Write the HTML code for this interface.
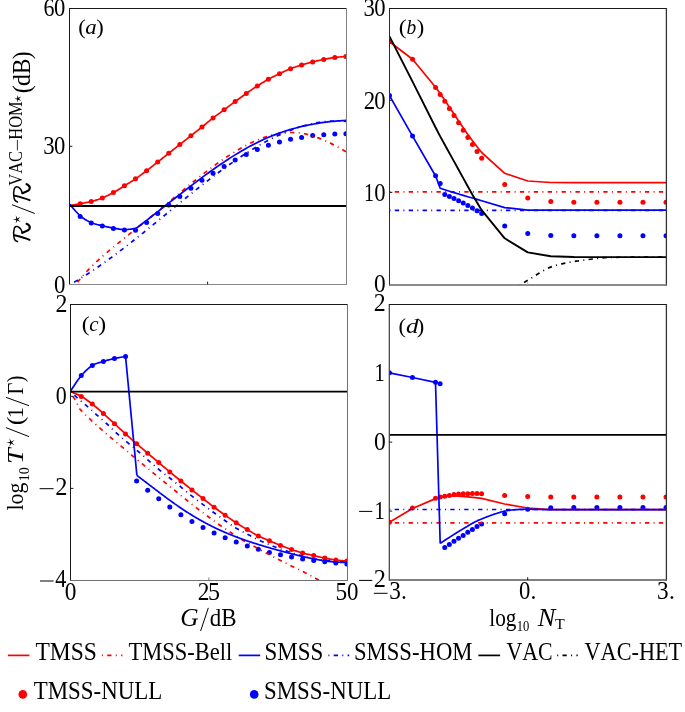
<!DOCTYPE html><html><head><meta charset="utf-8"><style>html,body{margin:0;padding:0;background:#fff;}svg{display:block;will-change:transform;}text{font-family:"Liberation Serif",serif;fill:#000;font-kerning:none;}</style></head><body>
<svg width="685" height="712" viewBox="0 0 685 712">
<rect width="685" height="712" fill="#fff"/>
<defs>
<clipPath id="ca"><rect x="69.5" y="8.4" width="276.8" height="276.0"/></clipPath>
<clipPath id="cb"><rect x="389.5" y="8.4" width="276.5" height="276.20000000000005"/></clipPath>
<clipPath id="cc"><rect x="70.6" y="304.4" width="276.70000000000005" height="276.0"/></clipPath>
<clipPath id="cd"><rect x="389.4" y="304.2" width="276.6" height="275.8"/></clipPath>
</defs>
<g fill="#ff0000" clip-path="url(#ca)"><circle cx="80.17" cy="203.70" r="2.5"/><circle cx="91.24" cy="201.50" r="2.5"/><circle cx="102.32" cy="197.90" r="2.5"/><circle cx="113.39" cy="192.60" r="2.5"/><circle cx="124.46" cy="185.80" r="2.5"/><circle cx="135.53" cy="178.80" r="2.5"/><circle cx="146.60" cy="170.70" r="2.5"/><circle cx="157.68" cy="162.00" r="2.5"/><circle cx="168.75" cy="153.30" r="2.5"/><circle cx="179.82" cy="144.50" r="2.5"/><circle cx="190.89" cy="135.80" r="2.5"/><circle cx="201.96" cy="127.00" r="2.5"/><circle cx="213.04" cy="118.00" r="2.5"/><circle cx="224.11" cy="109.80" r="2.5"/><circle cx="235.18" cy="101.50" r="2.5"/><circle cx="246.25" cy="93.50" r="2.5"/><circle cx="257.32" cy="85.90" r="2.5"/><circle cx="268.40" cy="79.30" r="2.5"/><circle cx="279.47" cy="73.70" r="2.5"/><circle cx="290.54" cy="68.70" r="2.5"/><circle cx="301.61" cy="65.00" r="2.5"/><circle cx="312.68" cy="61.90" r="2.5"/><circle cx="323.76" cy="59.40" r="2.5"/><circle cx="334.83" cy="57.50" r="2.5"/><circle cx="345.90" cy="56.50" r="2.5"/></g>
<g fill="#0000ff" clip-path="url(#ca)"><circle cx="80.17" cy="216.40" r="2.5"/><circle cx="91.24" cy="222.90" r="2.5"/><circle cx="102.32" cy="225.90" r="2.5"/><circle cx="113.39" cy="228.40" r="2.5"/><circle cx="124.46" cy="229.90" r="2.5"/><circle cx="135.53" cy="230.30" r="2.5"/><circle cx="146.60" cy="222.40" r="2.5"/><circle cx="157.68" cy="213.60" r="2.5"/><circle cx="168.75" cy="205.00" r="2.5"/><circle cx="179.82" cy="196.50" r="2.5"/><circle cx="190.89" cy="188.30" r="2.5"/><circle cx="201.96" cy="180.30" r="2.5"/><circle cx="213.04" cy="173.30" r="2.5"/><circle cx="224.11" cy="166.50" r="2.5"/><circle cx="235.18" cy="160.00" r="2.5"/><circle cx="246.25" cy="154.40" r="2.5"/><circle cx="257.32" cy="149.40" r="2.5"/><circle cx="268.40" cy="145.20" r="2.5"/><circle cx="279.47" cy="142.00" r="2.5"/><circle cx="290.54" cy="139.30" r="2.5"/><circle cx="301.61" cy="137.40" r="2.5"/><circle cx="312.68" cy="135.60" r="2.5"/><circle cx="323.76" cy="134.70" r="2.5"/><circle cx="334.83" cy="134.10" r="2.5"/><circle cx="345.90" cy="133.70" r="2.5"/></g>
<path d="M69.10,205.50 L69.95,205.36 L71.09,205.19 L72.44,204.97 L73.94,204.74 L75.53,204.48 L77.14,204.22 L78.71,203.96 L80.17,203.70 L81.56,203.45 L82.94,203.21 L84.32,202.97 L85.71,202.71 L87.09,202.45 L88.48,202.16 L89.86,201.84 L91.24,201.50 L92.63,201.13 L94.01,200.74 L95.40,200.33 L96.78,199.89 L98.16,199.44 L99.55,198.95 L100.93,198.44 L102.32,197.90 L103.70,197.33 L105.08,196.73 L106.47,196.10 L107.85,195.45 L109.24,194.77 L110.62,194.07 L112.00,193.35 L113.39,192.60 L114.77,191.82 L116.16,191.01 L117.54,190.17 L118.92,189.31 L120.31,188.43 L121.69,187.55 L123.08,186.67 L124.46,185.80 L125.84,184.94 L127.23,184.09 L128.61,183.24 L130.00,182.38 L131.38,181.51 L132.76,180.63 L134.15,179.73 L135.53,178.80 L136.92,177.84 L138.30,176.87 L139.68,175.87 L141.07,174.86 L142.45,173.83 L143.84,172.79 L145.22,171.75 L146.60,170.70 L147.99,169.64 L149.37,168.57 L150.76,167.48 L152.14,166.39 L153.52,165.29 L154.91,164.19 L156.29,163.09 L157.68,162.00 L159.06,160.91 L160.44,159.83 L161.83,158.74 L163.21,157.66 L164.60,156.57 L165.98,155.48 L167.36,154.39 L168.75,153.30 L170.13,152.20 L171.52,151.10 L172.90,150.00 L174.28,148.90 L175.67,147.80 L177.05,146.70 L178.44,145.60 L179.82,144.50 L181.20,143.41 L182.59,142.32 L183.97,141.23 L185.36,140.15 L186.74,139.07 L188.12,137.98 L189.51,136.89 L190.89,135.80 L192.28,134.71 L193.66,133.61 L195.04,132.52 L196.43,131.42 L197.81,130.32 L199.20,129.22 L200.58,128.11 L201.96,127.00 L203.35,125.88 L204.73,124.75 L206.12,123.60 L207.50,122.46 L208.88,121.33 L210.27,120.20 L211.65,119.09 L213.04,118.00 L214.42,116.94 L215.80,115.90 L217.19,114.87 L218.57,113.86 L219.96,112.85 L221.34,111.84 L222.72,110.82 L224.11,109.80 L225.49,108.77 L226.88,107.72 L228.26,106.68 L229.64,105.64 L231.03,104.59 L232.41,103.56 L233.80,102.52 L235.18,101.50 L236.56,100.48 L237.95,99.47 L239.33,98.46 L240.72,97.46 L242.10,96.46 L243.48,95.46 L244.87,94.48 L246.25,93.50 L247.64,92.52 L249.02,91.55 L250.40,90.58 L251.79,89.61 L253.17,88.66 L254.56,87.72 L255.94,86.80 L257.32,85.90 L258.71,85.02 L260.09,84.16 L261.48,83.31 L262.86,82.48 L264.24,81.66 L265.63,80.86 L267.01,80.07 L268.40,79.30 L269.78,78.55 L271.16,77.82 L272.55,77.10 L273.93,76.40 L275.32,75.71 L276.70,75.03 L278.08,74.36 L279.47,73.70 L280.85,73.04 L282.24,72.38 L283.62,71.72 L285.00,71.08 L286.39,70.45 L287.77,69.84 L289.16,69.26 L290.54,68.70 L291.92,68.17 L293.31,67.67 L294.69,67.19 L296.08,66.73 L297.46,66.29 L298.84,65.85 L300.23,65.42 L301.61,65.00 L303.00,64.58 L304.38,64.17 L305.76,63.77 L307.15,63.38 L308.53,62.99 L309.92,62.62 L311.30,62.25 L312.68,61.90 L314.07,61.55 L315.45,61.22 L316.84,60.89 L318.22,60.58 L319.60,60.27 L320.99,59.97 L322.37,59.68 L323.76,59.40 L325.14,59.13 L326.52,58.86 L327.91,58.60 L329.29,58.36 L330.68,58.12 L332.06,57.90 L333.44,57.69 L334.83,57.50 L336.29,57.33 L337.86,57.16 L339.47,57.02 L341.06,56.88 L342.56,56.76 L343.91,56.66 L345.05,56.57 L345.90,56.50" fill="none" stroke="#ff0000" stroke-width="1.7" stroke-linejoin="round" clip-path="url(#ca)"/>
<path d="M74.30,286.55 L76.30,283.88 L78.30,281.31 L80.30,278.84 L82.30,276.46 L84.30,274.16 L86.30,271.95 L88.30,269.81 L90.30,267.74 L92.30,265.74 L94.30,263.79 L96.30,261.90 L98.30,260.05 L100.30,258.25 L102.30,256.49 L104.30,254.76 L106.30,253.05 L108.30,251.36 L110.30,249.69 L112.30,248.03 L114.30,246.38 L116.30,244.74 L118.30,243.11 L120.30,241.49 L122.30,239.87 L124.30,238.26 L126.30,236.65 L128.30,235.04 L130.30,233.44 L132.30,231.84 L134.30,230.24 L136.30,228.64 L138.30,227.04 L140.30,225.44 L142.30,223.84 L144.30,222.23 L146.30,220.62 L148.30,219.00 L150.30,217.38 L152.30,215.75 L154.30,214.11 L156.30,212.47 L158.30,210.82 L160.30,209.16 L162.30,207.50 L164.30,205.83 L166.30,204.17 L168.30,202.50 L170.30,200.83 L172.30,199.16 L174.30,197.49 L176.30,195.82 L178.30,194.15 L180.30,192.49 L182.30,190.83 L184.30,189.18 L186.30,187.53 L188.30,185.89 L190.30,184.26 L192.30,182.64 L194.30,181.02 L196.30,179.42 L198.30,177.83 L200.30,176.25 L202.30,174.68 L204.30,173.13 L206.30,171.59 L208.30,170.07 L210.30,168.56 L212.30,167.07 L214.30,165.60 L216.30,164.15 L218.30,162.72 L220.30,161.31 L222.30,159.92 L224.30,158.56 L226.30,157.21 L228.30,155.90 L230.30,154.60 L232.30,153.34 L234.30,152.10 L236.30,150.89 L238.30,149.70 L240.30,148.55 L242.30,147.43 L244.30,146.34 L246.30,145.28 L248.30,144.26 L250.30,143.27 L252.30,142.32 L254.30,141.40 L256.30,140.52 L258.30,139.69 L260.30,138.89 L262.30,138.13 L264.30,137.42 L266.30,136.75 L268.30,136.12 L270.30,135.54 L272.30,135.01 L274.30,134.53 L276.30,134.09 L278.30,133.71 L280.30,133.37 L282.30,133.09 L284.30,132.86 L286.30,132.69 L288.30,132.57 L290.30,132.51 L292.30,132.51 L294.30,132.57 L296.30,132.69 L298.30,132.86 L300.30,133.10 L302.30,133.41 L304.30,133.77 L306.30,134.19 L308.30,134.67 L310.30,135.21 L312.30,135.79 L314.30,136.43 L316.30,137.12 L318.30,137.85 L320.30,138.63 L322.30,139.45 L324.30,140.31 L326.30,141.21 L328.30,142.15 L330.30,143.11 L332.30,144.12 L334.30,145.15 L336.30,146.21 L338.30,147.29 L340.30,148.40 L342.30,149.53 L344.30,150.69 L346.30,151.85" fill="none" stroke="#ff0000" stroke-width="1.7" stroke-linejoin="round" stroke-dasharray="1 4.3 4.3 4.3" clip-path="url(#ca)"/>
<path d="M69.50,204.00 L70.36,204.98 L71.50,206.33 L72.85,207.93 L74.36,209.69 L75.96,211.51 L77.57,213.26 L79.14,214.86 L80.60,216.20 L81.98,217.31 L83.35,218.31 L84.73,219.20 L86.10,220.02 L87.47,220.76 L88.85,221.45 L90.22,222.09 L91.60,222.70 L92.98,223.25 L94.37,223.73 L95.76,224.14 L97.14,224.51 L98.53,224.84 L99.92,225.15 L101.31,225.47 L102.70,225.80 L104.09,226.14 L105.48,226.47 L106.86,226.80 L108.25,227.11 L109.64,227.40 L111.03,227.69 L112.41,227.95 L113.80,228.20 L115.19,228.44 L116.58,228.68 L117.97,228.92 L119.36,229.13 L120.74,229.32 L122.13,229.46 L123.52,229.56 L124.90,229.60 L126.35,229.56 L127.91,229.43 L129.52,229.25 L131.09,229.04 L132.59,228.81 L133.93,228.60 L135.05,228.42 L135.90,228.30" fill="none" stroke="#0000ff" stroke-width="1.7" stroke-linejoin="round" clip-path="url(#ca)"/>
<path d="M135.90,228.50 L137.90,226.99 L139.90,225.47 L141.90,223.95 L143.90,222.41 L145.90,220.88 L147.90,219.33 L149.90,217.78 L151.90,216.23 L153.90,214.67 L155.90,213.12 L157.90,211.55 L159.90,209.99 L161.90,208.42 L163.90,206.86 L165.90,205.29 L167.90,203.72 L169.90,202.15 L171.90,200.59 L173.90,199.02 L175.90,197.46 L177.90,195.90 L179.90,194.35 L181.90,192.80 L183.90,191.25 L185.90,189.71 L187.90,188.17 L189.90,186.64 L191.90,185.12 L193.90,183.60 L195.90,182.09 L197.90,180.59 L199.90,179.10 L201.90,177.62 L203.90,176.15 L205.90,174.68 L207.90,173.23 L209.90,171.79 L211.90,170.37 L213.90,168.95 L215.90,167.55 L217.90,166.17 L219.90,164.79 L221.90,163.43 L223.90,162.09 L225.90,160.77 L227.90,159.46 L229.90,158.16 L231.90,156.89 L233.90,155.63 L235.90,154.39 L237.90,153.17 L239.90,151.97 L241.90,150.79 L243.90,149.64 L245.90,148.50 L247.90,147.38 L249.90,146.29 L251.90,145.22 L253.90,144.18 L255.90,143.16 L257.90,142.16 L259.90,141.19 L261.90,140.25 L263.90,139.33 L265.90,138.43 L267.90,137.57 L269.90,136.72 L271.90,135.91 L273.90,135.12 L275.90,134.35 L277.90,133.61 L279.90,132.89 L281.90,132.19 L283.90,131.52 L285.90,130.87 L287.90,130.24 L289.90,129.63 L291.90,129.05 L293.90,128.49 L295.90,127.95 L297.90,127.43 L299.90,126.93 L301.90,126.45 L303.90,125.99 L305.90,125.55 L307.90,125.13 L309.90,124.73 L311.90,124.35 L313.90,123.99 L315.90,123.64 L317.90,123.31 L319.90,123.00 L321.90,122.71 L323.90,122.43 L325.90,122.18 L327.90,121.93 L329.90,121.70 L331.90,121.49 L333.90,121.30 L335.90,121.12 L337.90,120.95 L339.90,120.80 L341.90,120.66 L343.90,120.53 L345.90,120.42 L346.30,120.40" fill="none" stroke="#0000ff" stroke-width="1.7" stroke-linejoin="round" clip-path="url(#ca)"/>
<path d="M69.50,284.80 L71.50,283.68 L73.50,282.54 L75.50,281.37 L77.50,280.19 L79.50,278.98 L81.50,277.76 L83.50,276.52 L85.50,275.25 L87.50,273.97 L89.50,272.67 L91.50,271.36 L93.50,270.03 L95.50,268.68 L97.50,267.31 L99.50,265.93 L101.50,264.53 L103.50,263.12 L105.50,261.70 L107.50,260.26 L109.50,258.81 L111.50,257.34 L113.50,255.87 L115.50,254.38 L117.50,252.88 L119.50,251.37 L121.50,249.85 L123.50,248.31 L125.50,246.77 L127.50,245.22 L129.50,243.66 L131.50,242.09 L133.50,240.52 L135.50,238.94 L137.50,237.35 L139.50,235.75 L141.50,234.15 L143.50,232.54 L145.50,230.93 L147.50,229.31 L149.50,227.69 L151.50,226.06 L153.50,224.43 L155.50,222.80 L157.50,221.16 L159.50,219.53 L161.50,217.89 L163.50,216.25 L165.50,214.61 L167.50,212.97 L169.50,211.33 L171.50,209.69 L173.50,208.06 L175.50,206.42 L177.50,204.79 L179.50,203.15 L181.50,201.53 L183.50,199.90 L185.50,198.28 L187.50,196.66 L189.50,195.05 L191.50,193.45 L193.50,191.85 L195.50,190.25 L197.50,188.66 L199.50,187.08 L201.50,185.51 L203.50,183.94 L205.50,182.39 L207.50,180.84 L209.50,179.30 L211.50,177.77 L213.50,176.25 L215.50,174.75 L217.50,173.25 L219.50,171.77 L221.50,170.29 L223.50,168.83 L225.50,167.39 L227.50,165.95 L229.50,164.53 L231.50,163.13 L233.50,161.73 L235.50,160.36 L237.50,159.00 L239.50,157.65 L241.50,156.33 L243.50,155.02 L245.50,153.72 L247.50,152.45 L249.50,151.19 L251.50,149.95 L253.50,148.74 L255.50,147.54 L257.50,146.36 L259.50,145.20 L261.50,144.07 L263.50,142.95 L265.50,141.86 L267.50,140.79 L269.50,139.74 L271.50,138.71 L273.50,137.71 L275.50,136.74 L277.50,135.79 L279.50,134.86 L281.50,133.96 L283.50,133.09 L285.50,132.24 L287.50,131.42 L289.50,130.62 L291.50,129.86 L293.50,129.12 L295.50,128.41 L297.50,127.73 L299.50,127.08 L301.50,126.46 L303.50,125.87 L305.50,125.32 L307.50,124.79 L309.50,124.30 L311.50,123.83 L313.50,123.41 L315.50,123.01 L317.50,122.65 L319.50,122.32 L321.50,122.03 L323.50,121.77 L325.50,121.55 L327.50,121.36 L329.50,121.21 L331.50,121.10 L333.50,121.02 L335.50,120.99 L337.50,120.99 L339.50,121.03 L341.50,121.11 L343.50,121.23 L345.50,121.38 L346.30,121.46" fill="none" stroke="#0000ff" stroke-width="1.7" stroke-linejoin="round" stroke-dasharray="1 4.3 4.3 4.3" clip-path="url(#ca)"/>
<path d="M69.50,205.95 L346.30,205.95" fill="none" stroke="#000000" stroke-width="2.0" stroke-linejoin="round" clip-path="url(#ca)"/>
<g fill="#ff0000" clip-path="url(#cb)"><circle cx="389.50" cy="41.80" r="2.5"/><circle cx="412.54" cy="59.30" r="2.5"/><circle cx="435.58" cy="87.50" r="2.5"/><circle cx="440.19" cy="94.40" r="2.5"/><circle cx="444.80" cy="101.30" r="2.5"/><circle cx="449.41" cy="108.40" r="2.5"/><circle cx="454.02" cy="115.50" r="2.5"/><circle cx="458.62" cy="122.70" r="2.5"/><circle cx="463.23" cy="130.20" r="2.5"/><circle cx="467.84" cy="137.50" r="2.5"/><circle cx="472.45" cy="144.40" r="2.5"/><circle cx="477.06" cy="151.50" r="2.5"/><circle cx="481.67" cy="158.30" r="2.5"/><circle cx="504.71" cy="184.50" r="2.5"/><circle cx="527.75" cy="197.90" r="2.5"/><circle cx="550.79" cy="201.60" r="2.5"/><circle cx="573.83" cy="202.20" r="2.5"/><circle cx="596.88" cy="202.20" r="2.5"/><circle cx="619.92" cy="202.20" r="2.5"/><circle cx="642.96" cy="202.20" r="2.5"/><circle cx="666.00" cy="202.20" r="2.5"/></g>
<g fill="#0000ff" clip-path="url(#cb)"><circle cx="389.50" cy="95.60" r="2.5"/><circle cx="412.54" cy="136.10" r="2.5"/><circle cx="435.58" cy="175.70" r="2.5"/><circle cx="440.19" cy="183.40" r="2.5"/><circle cx="444.80" cy="194.50" r="2.5"/><circle cx="449.41" cy="196.40" r="2.5"/><circle cx="454.02" cy="198.40" r="2.5"/><circle cx="458.62" cy="200.70" r="2.5"/><circle cx="463.23" cy="203.00" r="2.5"/><circle cx="467.84" cy="205.50" r="2.5"/><circle cx="472.45" cy="207.90" r="2.5"/><circle cx="477.06" cy="210.70" r="2.5"/><circle cx="481.67" cy="213.60" r="2.5"/><circle cx="504.71" cy="226.10" r="2.5"/><circle cx="527.75" cy="233.60" r="2.5"/><circle cx="550.79" cy="235.50" r="2.5"/><circle cx="573.83" cy="235.70" r="2.5"/><circle cx="596.88" cy="235.70" r="2.5"/><circle cx="619.92" cy="235.70" r="2.5"/><circle cx="642.96" cy="235.70" r="2.5"/><circle cx="666.00" cy="235.70" r="2.5"/></g>
<path d="M389.50,41.80 L412.54,59.30 L435.58,87.20 L440.19,93.60 L444.80,100.30 L449.41,107.20 L454.02,114.00 L458.62,121.00 L463.23,127.80 L467.84,134.40 L472.45,140.70 L477.06,146.80 L481.67,152.50 L504.71,173.30 L527.75,181.00 L550.79,182.50 L573.83,182.70 L596.88,182.70 L619.92,182.70 L642.96,182.70 L666.00,182.70" fill="none" stroke="#ff0000" stroke-width="1.7" stroke-linejoin="round" clip-path="url(#cb)"/>
<path d="M389.50,191.80 L666.00,191.80" fill="none" stroke="#ff0000" stroke-width="1.7" stroke-linejoin="round" stroke-dasharray="1 4.3 4.3 4.3" clip-path="url(#cb)"/>
<path d="M389.50,95.60 L412.54,136.10 L435.58,176.00 L440.19,188.30 L444.80,189.80 L449.41,191.20 L454.02,192.60 L458.62,194.00 L463.23,195.40 L467.84,196.70 L472.45,198.00 L477.06,199.40 L481.67,200.80 L504.71,207.60 L527.75,210.20 L550.79,210.20 L573.83,210.20 L596.88,210.20 L619.92,210.20 L642.96,210.20 L666.00,210.20" fill="none" stroke="#0000ff" stroke-width="1.7" stroke-linejoin="round" clip-path="url(#cb)"/>
<path d="M389.50,210.30 L666.00,210.30" fill="none" stroke="#0000ff" stroke-width="1.7" stroke-linejoin="round" stroke-dasharray="1 4.3 4.3 4.3" clip-path="url(#cb)"/>
<path d="M389.50,36.40 L412.54,81.60 L435.58,127.50 L440.19,136.40 L444.80,144.70 L449.41,153.10 L454.02,161.40 L458.62,169.80 L463.23,178.10 L467.84,186.50 L472.45,194.80 L477.06,202.60 L481.67,210.20 L504.71,238.30 L527.75,252.40 L550.79,256.30 L573.83,257.00 L596.88,257.10 L619.92,257.10 L642.96,257.10 L666.00,257.10" fill="none" stroke="#000000" stroke-width="1.9" stroke-linejoin="round" clip-path="url(#cb)"/>
<path d="M519.50,285.20 L520.09,284.85 L520.77,284.43 L521.58,283.95 L522.52,283.38 L523.64,282.71 L524.94,281.93 L526.45,281.03 L528.20,280.00 L530.27,278.74 L532.67,277.24 L535.33,275.56 L538.16,273.79 L541.06,272.03 L543.96,270.36 L546.77,268.85 L549.40,267.60 L551.91,266.59 L554.41,265.74 L556.88,265.03 L559.31,264.41 L561.69,263.88 L564.01,263.40 L566.25,262.95 L568.40,262.50 L570.44,262.08 L572.36,261.74 L574.20,261.45 L575.97,261.20 L577.72,260.98 L579.45,260.76 L581.21,260.54 L583.00,260.30 L584.84,260.04 L586.70,259.78 L588.57,259.53 L590.44,259.27 L592.29,259.03 L594.10,258.80 L595.88,258.59 L597.60,258.40 L599.13,258.23 L600.44,258.07 L601.64,257.92 L602.84,257.79 L604.16,257.68 L605.71,257.57 L607.62,257.48 L610.00,257.40 L612.94,257.34 L616.36,257.29 L620.14,257.26 L624.15,257.24 L628.27,257.23 L632.37,257.22 L636.32,257.21 L640.00,257.20 L643.62,257.18 L647.39,257.17 L651.19,257.15 L654.88,257.14 L658.33,257.13 L661.42,257.12 L664.02,257.11 L666.00,257.10" fill="none" stroke="#000000" stroke-width="1.7" stroke-linejoin="round" stroke-dasharray="1 4.3 4.3 4.3" clip-path="url(#cb)"/>
<g fill="#ff0000" clip-path="url(#cc)"><circle cx="81.27" cy="396.40" r="2.5"/><circle cx="92.34" cy="404.10" r="2.5"/><circle cx="103.40" cy="413.60" r="2.5"/><circle cx="114.47" cy="423.70" r="2.5"/><circle cx="125.54" cy="433.90" r="2.5"/><circle cx="136.61" cy="443.70" r="2.5"/><circle cx="147.68" cy="453.20" r="2.5"/><circle cx="158.74" cy="462.60" r="2.5"/><circle cx="169.81" cy="471.90" r="2.5"/><circle cx="180.88" cy="481.00" r="2.5"/><circle cx="191.95" cy="489.90" r="2.5"/><circle cx="203.02" cy="498.60" r="2.5"/><circle cx="214.08" cy="507.20" r="2.5"/><circle cx="225.15" cy="515.20" r="2.5"/><circle cx="236.22" cy="522.80" r="2.5"/><circle cx="247.29" cy="529.60" r="2.5"/><circle cx="258.36" cy="535.90" r="2.5"/><circle cx="269.42" cy="540.80" r="2.5"/><circle cx="280.49" cy="545.40" r="2.5"/><circle cx="291.56" cy="549.50" r="2.5"/><circle cx="302.63" cy="553.00" r="2.5"/><circle cx="313.70" cy="555.60" r="2.5"/><circle cx="324.76" cy="558.10" r="2.5"/><circle cx="335.83" cy="560.00" r="2.5"/><circle cx="346.90" cy="561.10" r="2.5"/></g>
<g fill="#0000ff" clip-path="url(#cc)"><circle cx="81.27" cy="375.60" r="2.5"/><circle cx="92.34" cy="365.50" r="2.5"/><circle cx="103.40" cy="361.40" r="2.5"/><circle cx="114.47" cy="358.50" r="2.5"/><circle cx="125.54" cy="356.40" r="2.5"/><circle cx="136.61" cy="481.10" r="2.5"/><circle cx="147.68" cy="490.20" r="2.5"/><circle cx="158.74" cy="498.80" r="2.5"/><circle cx="169.81" cy="507.00" r="2.5"/><circle cx="180.88" cy="514.80" r="2.5"/><circle cx="191.95" cy="521.40" r="2.5"/><circle cx="203.02" cy="527.60" r="2.5"/><circle cx="214.08" cy="533.00" r="2.5"/><circle cx="225.15" cy="537.80" r="2.5"/><circle cx="236.22" cy="542.00" r="2.5"/><circle cx="247.29" cy="546.10" r="2.5"/><circle cx="258.36" cy="549.30" r="2.5"/><circle cx="269.42" cy="552.40" r="2.5"/><circle cx="280.49" cy="554.80" r="2.5"/><circle cx="291.56" cy="557.10" r="2.5"/><circle cx="302.63" cy="559.10" r="2.5"/><circle cx="313.70" cy="560.60" r="2.5"/><circle cx="324.76" cy="561.80" r="2.5"/><circle cx="335.83" cy="563.00" r="2.5"/><circle cx="346.90" cy="564.10" r="2.5"/></g>
<path d="M70.20,391.50 L71.05,391.86 L72.19,392.31 L73.54,392.86 L75.04,393.47 L76.63,394.14 L78.24,394.86 L79.81,395.62 L81.27,396.40 L82.65,397.22 L84.03,398.09 L85.42,399.00 L86.80,399.96 L88.19,400.96 L89.57,401.98 L90.95,403.03 L92.34,404.10 L93.72,405.20 L95.10,406.33 L96.49,407.50 L97.87,408.70 L99.25,409.91 L100.64,411.14 L102.02,412.37 L103.40,413.60 L104.79,414.83 L106.17,416.08 L107.55,417.34 L108.94,418.61 L110.32,419.88 L111.70,421.15 L113.09,422.43 L114.47,423.70 L115.86,424.97 L117.24,426.25 L118.62,427.54 L120.01,428.82 L121.39,430.10 L122.77,431.38 L124.16,432.64 L125.54,433.90 L126.92,435.15 L128.31,436.39 L129.69,437.62 L131.07,438.84 L132.46,440.06 L133.84,441.28 L135.22,442.49 L136.61,443.70 L137.99,444.90 L139.38,446.10 L140.76,447.29 L142.14,448.47 L143.53,449.66 L144.91,450.84 L146.29,452.02 L147.68,453.20 L149.06,454.38 L150.44,455.56 L151.83,456.74 L153.21,457.91 L154.59,459.09 L155.98,460.26 L157.36,461.43 L158.74,462.60 L160.13,463.77 L161.51,464.94 L162.89,466.10 L164.28,467.27 L165.66,468.43 L167.05,469.59 L168.43,470.75 L169.81,471.90 L171.20,473.05 L172.58,474.19 L173.96,475.34 L175.35,476.48 L176.73,477.61 L178.11,478.74 L179.50,479.87 L180.88,481.00 L182.26,482.12 L183.65,483.24 L185.03,484.36 L186.41,485.47 L187.80,486.59 L189.18,487.69 L190.56,488.80 L191.95,489.90 L193.33,491.00 L194.72,492.09 L196.10,493.18 L197.48,494.27 L198.87,495.35 L200.25,496.44 L201.63,497.52 L203.02,498.60 L204.40,499.68 L205.78,500.77 L207.17,501.86 L208.55,502.94 L209.93,504.02 L211.32,505.09 L212.70,506.15 L214.08,507.20 L215.47,508.23 L216.85,509.25 L218.23,510.26 L219.62,511.26 L221.00,512.26 L222.38,513.24 L223.77,514.22 L225.15,515.20 L226.54,516.17 L227.92,517.15 L229.30,518.11 L230.69,519.08 L232.07,520.03 L233.45,520.97 L234.84,521.89 L236.22,522.80 L237.60,523.69 L238.99,524.57 L240.37,525.43 L241.75,526.28 L243.14,527.12 L244.52,527.95 L245.90,528.78 L247.29,529.60 L248.67,530.42 L250.06,531.24 L251.44,532.06 L252.82,532.87 L254.21,533.66 L255.59,534.44 L256.97,535.18 L258.36,535.90 L259.74,536.58 L261.12,537.23 L262.51,537.85 L263.89,538.46 L265.27,539.05 L266.66,539.63 L268.04,540.21 L269.42,540.80 L270.81,541.39 L272.19,541.98 L273.57,542.57 L274.96,543.15 L276.34,543.72 L277.73,544.29 L279.11,544.85 L280.49,545.40 L281.88,545.94 L283.26,546.47 L284.64,547.00 L286.03,547.52 L287.41,548.03 L288.79,548.53 L290.18,549.02 L291.56,549.50 L292.94,549.97 L294.33,550.44 L295.71,550.90 L297.09,551.34 L298.48,551.78 L299.86,552.20 L301.24,552.61 L302.63,553.00 L304.01,553.37 L305.40,553.72 L306.78,554.05 L308.16,554.36 L309.55,554.67 L310.93,554.98 L312.31,555.29 L313.70,555.60 L315.08,555.92 L316.46,556.25 L317.85,556.57 L319.23,556.89 L320.61,557.21 L322.00,557.52 L323.38,557.82 L324.76,558.10 L326.15,558.37 L327.53,558.64 L328.91,558.89 L330.30,559.14 L331.68,559.37 L333.06,559.60 L334.45,559.80 L335.83,560.00 L337.29,560.18 L338.86,560.36 L340.47,560.52 L342.06,560.67 L343.56,560.80 L344.91,560.92 L346.05,561.02 L346.90,561.10" fill="none" stroke="#ff0000" stroke-width="1.7" stroke-linejoin="round" clip-path="url(#cc)"/>
<path d="M70.60,391.50 L70.79,391.92 L71.03,392.48 L71.32,393.16 L71.65,393.91 L71.99,394.68 L72.34,395.43 L72.68,396.11 L73.00,396.70 L73.30,397.18 L73.61,397.59 L73.91,397.95 L74.22,398.29 L74.52,398.63 L74.82,398.98 L75.11,399.36 L75.40,399.80 L75.68,400.30 L75.95,400.84 L76.22,401.41 L76.49,402.00 L76.75,402.59 L77.00,403.18 L77.25,403.76 L77.50,404.30 L77.73,404.82 L77.95,405.33 L78.15,405.83 L78.35,406.32 L78.56,406.80 L78.78,407.27 L79.02,407.74 L79.30,408.20 L79.61,408.65 L79.94,409.08 L80.28,409.51 L80.65,409.92 L81.03,410.34 L81.41,410.75 L81.81,411.17 L82.20,411.60 L82.60,412.03 L83.01,412.47 L83.43,412.91 L83.85,413.35 L84.28,413.79 L84.72,414.23 L85.16,414.67 L85.60,415.10 L86.05,415.53 L86.52,415.97 L86.99,416.40 L87.47,416.84 L87.94,417.27 L88.41,417.69 L88.86,418.10 L89.30,418.50 L89.68,418.85 L89.98,419.14 L90.26,419.40 L90.53,419.67 L90.85,419.97 L91.24,420.34 L91.74,420.80 L92.40,421.40 L93.22,422.14 L94.17,423.00 L95.22,423.96 L96.36,424.98 L97.55,426.05 L98.77,427.14 L99.99,428.24 L101.20,429.30 L102.41,430.36 L103.64,431.44 L104.91,432.54 L106.19,433.65 L107.49,434.77 L108.80,435.89 L110.10,437.00 L111.40,438.10 L112.70,439.19 L114.00,440.28 L115.31,441.36 L116.62,442.44 L117.94,443.52 L119.26,444.61 L120.58,445.70 L121.90,446.80 L123.22,447.91 L124.53,449.03 L125.85,450.15 L127.17,451.28 L128.49,452.41 L129.82,453.54 L131.16,454.67 L132.50,455.80 L133.86,456.93 L135.23,458.05 L136.62,459.18 L138.01,460.31 L139.39,461.44 L140.78,462.56 L142.15,463.68 L143.50,464.80 L144.83,465.91 L146.15,467.02 L147.46,468.12 L148.76,469.22 L150.06,470.32 L151.37,471.41 L152.68,472.51 L154.00,473.60 L155.34,474.69 L156.69,475.79 L158.05,476.88 L159.41,477.98 L160.77,479.06 L162.13,480.15 L163.47,481.23 L164.80,482.30 L166.11,483.36 L167.40,484.41 L168.68,485.45 L169.95,486.49 L171.22,487.53 L172.50,488.58 L173.79,489.63 L175.10,490.70 L176.42,491.78 L177.75,492.87 L179.09,493.97 L180.44,495.07 L181.79,496.18 L183.15,497.28 L184.52,498.39 L185.90,499.50 L187.29,500.61 L188.70,501.74 L190.12,502.87 L191.55,503.99 L192.98,505.12 L194.40,506.23 L195.81,507.33 L197.20,508.40 L198.58,509.45 L199.94,510.49 L201.30,511.51 L202.64,512.52 L203.99,513.53 L205.33,514.52 L206.66,515.51 L208.00,516.50 L209.33,517.48 L210.64,518.45 L211.94,519.40 L213.24,520.36 L214.55,521.31 L215.88,522.26 L217.22,523.23 L218.60,524.20 L220.01,525.19 L221.43,526.18 L222.88,527.18 L224.34,528.18 L225.81,529.19 L227.30,530.19 L228.80,531.20 L230.30,532.20 L231.82,533.21 L233.36,534.24 L234.93,535.27 L236.49,536.30 L238.06,537.32 L239.63,538.31 L241.17,539.28 L242.70,540.20 L244.20,541.08 L245.68,541.91 L247.15,542.71 L248.61,543.49 L250.07,544.26 L251.54,545.02 L253.01,545.80 L254.50,546.60 L256.01,547.42 L257.52,548.24 L259.04,549.06 L260.57,549.89 L262.10,550.72 L263.63,551.55 L265.17,552.38 L266.70,553.20 L268.23,554.02 L269.77,554.84 L271.30,555.66 L272.84,556.48 L274.38,557.29 L275.92,558.10 L277.46,558.90 L279.00,559.70 L280.55,560.49 L282.09,561.27 L283.64,562.05 L285.19,562.82 L286.75,563.59 L288.30,564.36 L289.85,565.13 L291.40,565.90 L292.94,566.67 L294.46,567.42 L295.98,568.17 L297.49,568.92 L299.03,569.68 L300.58,570.46 L302.17,571.26 L303.80,572.10 L305.55,573.01 L307.44,574.00 L309.40,575.04 L311.37,576.09 L313.27,577.10 L315.04,578.05 L316.60,578.90 L317.90,579.60 L318.92,580.16 L319.72,580.61 L320.35,580.98 L320.83,581.27 L321.20,581.50 L321.50,581.69 L321.75,581.85 L322.00,582.00" fill="none" stroke="#ff0000" stroke-width="1.7" stroke-linejoin="round" stroke-dasharray="1 4.3 4.3 4.3" clip-path="url(#cc)"/>
<path d="M70.20,391.50 L71.05,390.23 L72.19,388.51 L73.54,386.45 L75.04,384.18 L76.63,381.84 L78.24,379.54 L79.81,377.42 L81.27,375.60 L82.65,374.02 L84.03,372.53 L85.42,371.12 L86.80,369.81 L88.19,368.59 L89.57,367.47 L90.95,366.44 L92.34,365.50 L93.72,364.69 L95.10,364.02 L96.49,363.47 L97.87,363.00 L99.25,362.59 L100.64,362.20 L102.02,361.81 L103.40,361.40 L104.79,360.97 L106.17,360.57 L107.55,360.19 L108.94,359.82 L110.32,359.48 L111.70,359.14 L113.09,358.82 L114.47,358.50 L115.93,358.18 L117.50,357.87 L119.11,357.56 L120.70,357.27 L122.20,357.00 L123.55,356.76 L124.69,356.56 L125.54,356.40" fill="none" stroke="#0000ff" stroke-width="1.7" stroke-linejoin="round" clip-path="url(#cc)"/>
<path d="M125.54,356.40 L136.90,475.51" fill="none" stroke="#0000ff" stroke-width="1.7" stroke-linejoin="round" clip-path="url(#cc)"/>
<path d="M136.90,475.51 L137.13,475.68 L137.44,475.90 L137.81,476.17 L138.21,476.47 L138.64,476.79 L139.08,477.11 L139.50,477.42 L139.90,477.72 L140.28,478.00 L140.65,478.28 L141.03,478.56 L141.40,478.84 L141.78,479.12 L142.15,479.40 L142.53,479.68 L142.90,479.96 L143.28,480.25 L143.65,480.53 L144.03,480.81 L144.40,481.10 L144.78,481.38 L145.15,481.66 L145.53,481.95 L145.90,482.23 L146.28,482.52 L146.65,482.80 L147.03,483.09 L147.40,483.37 L147.78,483.66 L148.15,483.95 L148.53,484.23 L148.90,484.52 L149.28,484.81 L149.65,485.09 L150.03,485.38 L150.40,485.67 L150.78,485.95 L151.15,486.24 L151.53,486.53 L151.90,486.81 L152.28,487.10 L152.65,487.39 L153.03,487.67 L153.40,487.96 L153.78,488.25 L154.15,488.53 L154.53,488.82 L154.90,489.11 L155.28,489.39 L155.65,489.68 L156.03,489.96 L156.40,490.25 L156.78,490.54 L157.15,490.82 L157.53,491.11 L157.90,491.39 L158.28,491.68 L158.65,491.96 L159.03,492.24 L159.40,492.53 L159.78,492.81 L160.15,493.10 L160.53,493.38 L160.90,493.66 L161.28,493.94 L161.65,494.23 L162.03,494.51 L162.40,494.79 L162.78,495.07 L163.15,495.35 L163.53,495.63 L163.90,495.91 L164.28,496.19 L164.65,496.47 L165.03,496.75 L165.40,497.03 L165.78,497.31 L166.15,497.58 L166.53,497.86 L166.90,498.14 L167.28,498.41 L167.65,498.69 L168.03,498.96 L168.40,499.24 L168.78,499.51 L169.15,499.79 L169.53,500.06 L169.90,500.33 L170.28,500.60 L170.65,500.87 L171.03,501.15 L171.40,501.42 L171.78,501.69 L172.15,501.95 L172.53,502.22 L172.90,502.49 L173.28,502.76 L173.65,503.03 L174.03,503.29 L174.40,503.56 L174.78,503.82 L175.15,504.09 L175.53,504.35 L175.90,504.61 L176.28,504.87 L176.65,505.14 L177.03,505.40 L177.40,505.66 L177.78,505.92 L178.15,506.18 L178.53,506.43 L178.90,506.69 L179.28,506.95 L179.65,507.20 L180.03,507.46 L180.40,507.71 L180.78,507.97 L181.15,508.22 L181.53,508.47 L181.90,508.73 L182.28,508.98 L182.65,509.23 L183.03,509.48 L183.40,509.73 L183.78,509.97 L184.15,510.22 L184.53,510.47 L184.90,510.71 L185.28,510.96 L185.65,511.20 L186.03,511.45 L186.40,511.69 L186.78,511.93 L187.15,512.17 L187.53,512.41 L187.90,512.65 L188.28,512.89 L188.65,513.13 L189.03,513.37 L189.40,513.60 L189.78,513.84 L190.15,514.07 L190.53,514.31 L190.90,514.54 L191.28,514.77 L191.65,515.00 L192.03,515.23 L192.40,515.46 L192.78,515.69 L193.15,515.92 L193.53,516.15 L193.90,516.38 L194.28,516.60 L194.65,516.83 L195.03,517.05 L195.40,517.28 L195.78,517.50 L196.15,517.72 L196.53,517.94 L196.90,518.16 L197.28,518.38 L197.65,518.60 L198.03,518.82 L198.40,519.03 L198.78,519.25 L199.15,519.46 L199.53,519.68 L199.90,519.89 L200.28,520.11 L200.65,520.32 L201.03,520.53 L201.40,520.74 L201.78,520.95 L202.15,521.16 L202.53,521.36 L202.90,521.57 L203.28,521.78 L203.65,521.98 L204.03,522.19 L204.40,522.39 L204.78,522.59 L205.15,522.80 L205.53,523.00 L205.90,523.20 L206.28,523.40 L206.65,523.60 L207.03,523.79 L207.40,523.99 L207.78,524.19 L208.15,524.38 L208.53,524.58 L208.90,524.77 L209.28,524.96 L209.65,525.16 L210.03,525.35 L210.40,525.54 L210.78,525.73 L211.15,525.92 L211.53,526.11 L211.90,526.29 L212.28,526.48 L212.65,526.67 L213.03,526.85 L213.40,527.04 L213.78,527.22 L214.15,527.40 L214.53,527.59 L214.90,527.77 L215.28,527.95 L215.65,528.13 L216.03,528.31 L216.40,528.49 L216.78,528.66 L217.15,528.84 L217.53,529.02 L217.90,529.19 L218.28,529.37 L218.65,529.54 L219.03,529.71 L219.40,529.89 L219.78,530.06 L220.15,530.23 L220.53,530.40 L220.90,530.57 L221.28,530.74 L221.65,530.90 L222.03,531.07 L222.40,531.24 L222.78,531.40 L223.15,531.57 L223.53,531.73 L223.90,531.90 L224.28,532.06 L224.65,532.22 L225.03,532.38 L225.40,532.55 L225.78,532.71 L226.15,532.87 L226.53,533.02 L226.90,533.18 L227.28,533.34 L227.65,533.50 L228.03,533.65 L228.40,533.81 L228.78,533.96 L229.15,534.12 L229.53,534.27 L229.90,534.43 L230.28,534.58 L230.65,534.73 L231.03,534.88 L231.40,535.03 L231.78,535.18 L232.15,535.33 L232.53,535.48 L232.90,535.63 L233.28,535.77 L233.65,535.92 L234.03,536.07 L234.40,536.21 L234.78,536.36 L235.15,536.50 L235.53,536.65 L235.90,536.79 L236.28,536.93 L236.65,537.08 L237.03,537.22 L237.40,537.36 L237.78,537.50 L238.15,537.64 L238.53,537.78 L238.90,537.92 L239.28,538.06 L239.65,538.19 L240.03,538.33 L240.40,538.47 L240.78,538.60 L241.15,538.74 L241.53,538.88 L241.90,539.01 L242.28,539.14 L242.65,539.28 L243.03,539.41 L243.40,539.54 L243.78,539.68 L244.15,539.81 L244.53,539.94 L244.90,540.07 L245.28,540.20 L245.65,540.33 L246.03,540.46 L246.40,540.59 L246.78,540.72 L247.15,540.85 L247.53,540.97 L247.90,541.10 L248.28,541.23 L248.65,541.35 L249.03,541.48 L249.40,541.61 L249.78,541.73 L250.15,541.85 L250.53,541.98 L250.90,542.10 L251.28,542.23 L251.65,542.35 L252.03,542.47 L252.40,542.59 L252.78,542.72 L253.15,542.84 L253.53,542.96 L253.90,543.08 L254.28,543.20 L254.65,543.32 L255.03,543.44 L255.40,543.56 L255.77,543.68 L256.15,543.80 L256.52,543.91 L256.90,544.03 L257.27,544.15 L257.65,544.27 L258.02,544.38 L258.40,544.50 L258.77,544.61 L259.15,544.73 L259.52,544.85 L259.90,544.96 L260.27,545.08 L260.65,545.19 L261.02,545.30 L261.40,545.42 L261.77,545.53 L262.15,545.64 L262.52,545.76 L262.90,545.87 L263.27,545.98 L263.65,546.09 L264.02,546.21 L264.40,546.32 L264.77,546.43 L265.15,546.54 L265.52,546.65 L265.90,546.76 L266.27,546.87 L266.65,546.98 L267.02,547.09 L267.40,547.20 L267.77,547.31 L268.15,547.42 L268.52,547.53 L268.90,547.63 L269.27,547.74 L269.65,547.85 L270.02,547.96 L270.40,548.06 L270.77,548.17 L271.15,548.28 L271.52,548.39 L271.90,548.49 L272.27,548.60 L272.65,548.70 L273.02,548.81 L273.40,548.91 L273.77,549.02 L274.15,549.12 L274.52,549.23 L274.90,549.33 L275.27,549.44 L275.65,549.54 L276.02,549.65 L276.40,549.75 L276.77,549.85 L277.15,549.96 L277.52,550.06 L277.90,550.16 L278.27,550.27 L278.65,550.37 L279.02,550.47 L279.40,550.57 L279.77,550.67 L280.15,550.78 L280.52,550.88 L280.90,550.98 L281.27,551.08 L281.65,551.18 L282.02,551.28 L282.40,551.38 L282.77,551.48 L283.15,551.58 L283.52,551.68 L283.90,551.78 L284.27,551.88 L284.65,551.98 L285.02,552.08 L285.40,552.18 L285.77,552.27 L286.15,552.37 L286.52,552.47 L286.90,552.57 L287.27,552.67 L287.65,552.76 L288.02,552.86 L288.40,552.96 L288.77,553.06 L289.15,553.15 L289.52,553.25 L289.90,553.34 L290.27,553.44 L290.65,553.54 L291.02,553.63 L291.40,553.73 L291.77,553.82 L292.15,553.92 L292.52,554.01 L292.90,554.11 L293.27,554.20 L293.65,554.29 L294.02,554.39 L294.40,554.48 L294.77,554.58 L295.15,554.67 L295.52,554.76 L295.90,554.85 L296.27,554.95 L296.65,555.04 L297.02,555.13 L297.40,555.22 L297.77,555.31 L298.15,555.40 L298.52,555.49 L298.90,555.58 L299.27,555.67 L299.65,555.76 L300.02,555.85 L300.40,555.94 L300.77,556.03 L301.15,556.12 L301.52,556.21 L301.90,556.30 L302.27,556.39 L302.65,556.47 L303.02,556.56 L303.40,556.65 L303.77,556.73 L304.15,556.82 L304.52,556.91 L304.90,556.99 L305.27,557.08 L305.65,557.16 L306.02,557.24 L306.40,557.33 L306.77,557.41 L307.15,557.50 L307.52,557.58 L307.90,557.66 L308.27,557.74 L308.65,557.82 L309.02,557.91 L309.40,557.99 L309.77,558.07 L310.15,558.15 L310.52,558.23 L310.90,558.31 L311.27,558.38 L311.65,558.46 L312.02,558.54 L312.40,558.62 L312.77,558.69 L313.15,558.77 L313.52,558.85 L313.90,558.92 L314.27,559.00 L314.65,559.07 L315.02,559.14 L315.40,559.22 L315.77,559.29 L316.15,559.36 L316.52,559.43 L316.90,559.50 L317.27,559.57 L317.65,559.64 L318.02,559.71 L318.40,559.78 L318.77,559.85 L319.15,559.92 L319.52,559.98 L319.90,560.05 L320.27,560.11 L320.65,560.18 L321.02,560.24 L321.40,560.31 L321.77,560.37 L322.15,560.43 L322.52,560.49 L322.90,560.55 L323.27,560.61 L323.65,560.67 L324.02,560.73 L324.40,560.78 L324.77,560.84 L325.15,560.89 L325.52,560.95 L325.90,561.00 L326.27,561.06 L326.65,561.11 L327.02,561.16 L327.40,561.21 L327.77,561.26 L328.15,561.31 L328.52,561.35 L328.90,561.40 L329.27,561.45 L329.65,561.49 L330.02,561.53 L330.40,561.58 L330.77,561.62 L331.15,561.66 L331.52,561.70 L331.90,561.74 L332.27,561.77 L332.65,561.81 L333.02,561.85 L333.40,561.88 L333.77,561.91 L334.15,561.94 L334.52,561.97 L334.90,562.00 L335.27,562.03 L335.65,562.06 L336.02,562.08 L336.40,562.11 L336.77,562.13 L337.15,562.15 L337.52,562.17 L337.90,562.19 L338.27,562.21 L338.65,562.23 L339.02,562.24 L339.40,562.26 L339.77,562.27 L340.15,562.28 L340.52,562.29 L340.90,562.30 L341.27,562.30 L341.65,562.31 L342.02,562.31 L342.40,562.31 L342.77,562.31 L343.15,562.31 L343.52,562.31 L343.90,562.30 L344.29,562.29 L344.71,562.28 L345.14,562.27 L345.56,562.25 L345.97,562.24 L346.33,562.22 L346.65,562.21 L346.90,562.20 L347.08,562.19 L347.19,562.19 L347.26,562.19 L347.29,562.18 L347.29,562.18 L347.29,562.18 L347.29,562.18 L347.30,562.18" fill="none" stroke="#0000ff" stroke-width="1.7" stroke-linejoin="round" clip-path="url(#cc)"/>
<path d="M70.60,391.50 L71.16,392.04 L71.90,392.75 L72.78,393.59 L73.76,394.54 L74.80,395.54 L75.89,396.56 L76.96,397.56 L78.00,398.50 L79.02,399.40 L80.06,400.29 L81.11,401.18 L82.19,402.08 L83.29,403.00 L84.41,403.94 L85.55,404.90 L86.70,405.90 L87.88,406.94 L89.08,408.01 L90.30,409.11 L91.54,410.24 L92.80,411.37 L94.06,412.52 L95.33,413.66 L96.60,414.80 L97.88,415.93 L99.17,417.07 L100.47,418.21 L101.78,419.35 L103.09,420.50 L104.40,421.66 L105.71,422.82 L107.00,424.00 L108.28,425.19 L109.56,426.41 L110.83,427.63 L112.09,428.86 L113.36,430.09 L114.63,431.31 L115.91,432.52 L117.20,433.70 L118.50,434.86 L119.80,436.00 L121.10,437.13 L122.41,438.24 L123.73,439.36 L125.05,440.47 L126.37,441.58 L127.70,442.70 L129.04,443.82 L130.39,444.95 L131.75,446.07 L133.12,447.20 L134.48,448.32 L135.84,449.45 L137.18,450.57 L138.50,451.70 L139.80,452.83 L141.09,453.95 L142.37,455.08 L143.64,456.21 L144.90,457.34 L146.16,458.46 L147.43,459.58 L148.70,460.70 L149.97,461.81 L151.23,462.92 L152.49,464.02 L153.74,465.12 L155.01,466.22 L156.29,467.31 L157.58,468.41 L158.90,469.50 L160.25,470.59 L161.63,471.69 L163.02,472.78 L164.43,473.87 L165.84,474.96 L167.25,476.04 L168.64,477.12 L170.00,478.20 L171.34,479.27 L172.66,480.33 L173.97,481.38 L175.27,482.44 L176.57,483.49 L177.87,484.55 L179.18,485.62 L180.50,486.70 L181.84,487.80 L183.18,488.91 L184.53,490.03 L185.88,491.16 L187.24,492.29 L188.59,493.41 L189.95,494.51 L191.30,495.60 L192.65,496.67 L194.00,497.72 L195.35,498.77 L196.69,499.80 L198.04,500.83 L199.39,501.85 L200.75,502.88 L202.10,503.90 L203.45,504.92 L204.80,505.94 L206.15,506.95 L207.51,507.96 L208.86,508.96 L210.23,509.97 L211.61,510.98 L213.00,512.00 L214.41,513.02 L215.83,514.05 L217.26,515.08 L218.70,516.11 L220.15,517.14 L221.60,518.16 L223.05,519.18 L224.50,520.20 L225.95,521.22 L227.40,522.25 L228.85,523.28 L230.30,524.30 L231.76,525.31 L233.23,526.30 L234.71,527.27 L236.20,528.20 L237.71,529.09 L239.23,529.96 L240.76,530.80 L242.31,531.61 L243.85,532.42 L245.40,533.21 L246.95,534.00 L248.50,534.80 L250.05,535.60 L251.60,536.40 L253.15,537.20 L254.71,537.99 L256.26,538.77 L257.81,539.53 L259.36,540.28 L260.90,541.00 L262.43,541.70 L263.94,542.38 L265.45,543.05 L266.95,543.69 L268.46,544.33 L269.98,544.96 L271.53,545.58 L273.10,546.20 L274.71,546.82 L276.35,547.43 L278.01,548.03 L279.69,548.63 L281.36,549.21 L283.03,549.79 L284.68,550.35 L286.30,550.90 L287.90,551.44 L289.48,551.97 L291.06,552.50 L292.62,553.01 L294.17,553.50 L295.70,553.99 L297.21,554.45 L298.70,554.90 L300.14,555.33 L301.52,555.73 L302.86,556.12 L304.19,556.49 L305.54,556.86 L306.94,557.21 L308.42,557.56 L310.00,557.90 L311.65,558.24 L313.32,558.57 L315.03,558.90 L316.81,559.22 L318.68,559.53 L320.65,559.83 L322.75,560.12 L325.00,560.40 L327.59,560.68 L330.58,560.96 L333.81,561.24 L337.09,561.51 L340.25,561.75 L343.12,561.97 L345.53,562.16 L347.30,562.30" fill="none" stroke="#0000ff" stroke-width="1.7" stroke-linejoin="round" stroke-dasharray="1 4.3 4.3 4.3" clip-path="url(#cc)"/>
<path d="M70.60,391.60 L347.30,391.60" fill="none" stroke="#000000" stroke-width="1.7" stroke-linejoin="round" clip-path="url(#cc)"/>
<g fill="#ff0000" clip-path="url(#cd)"><circle cx="389.40" cy="522.30" r="2.5"/><circle cx="412.45" cy="508.10" r="2.5"/><circle cx="435.50" cy="498.20" r="2.5"/><circle cx="440.11" cy="497.00" r="2.5"/><circle cx="444.72" cy="496.30" r="2.5"/><circle cx="449.33" cy="495.40" r="2.5"/><circle cx="453.94" cy="494.50" r="2.5"/><circle cx="458.55" cy="494.00" r="2.5"/><circle cx="463.16" cy="493.70" r="2.5"/><circle cx="467.77" cy="493.70" r="2.5"/><circle cx="472.38" cy="493.50" r="2.5"/><circle cx="476.99" cy="493.50" r="2.5"/><circle cx="481.60" cy="493.70" r="2.5"/><circle cx="504.65" cy="495.40" r="2.5"/><circle cx="527.70" cy="496.60" r="2.5"/><circle cx="550.75" cy="497.00" r="2.5"/><circle cx="573.80" cy="497.00" r="2.5"/><circle cx="596.85" cy="497.00" r="2.5"/><circle cx="619.90" cy="497.00" r="2.5"/><circle cx="642.95" cy="497.00" r="2.5"/><circle cx="666.00" cy="497.00" r="2.5"/></g>
<g fill="#0000ff" clip-path="url(#cd)"><circle cx="389.40" cy="372.80" r="2.5"/><circle cx="412.45" cy="377.50" r="2.5"/><circle cx="435.50" cy="382.20" r="2.5"/><circle cx="440.11" cy="383.70" r="2.5"/><circle cx="444.72" cy="547.40" r="2.5"/><circle cx="449.33" cy="544.50" r="2.5"/><circle cx="453.94" cy="541.30" r="2.5"/><circle cx="458.55" cy="538.30" r="2.5"/><circle cx="463.16" cy="535.40" r="2.5"/><circle cx="467.77" cy="532.20" r="2.5"/><circle cx="472.38" cy="529.40" r="2.5"/><circle cx="476.99" cy="526.60" r="2.5"/><circle cx="481.60" cy="524.10" r="2.5"/><circle cx="504.65" cy="513.80" r="2.5"/><circle cx="527.70" cy="509.20" r="2.5"/><circle cx="550.75" cy="507.70" r="2.5"/><circle cx="573.80" cy="507.50" r="2.5"/><circle cx="596.85" cy="507.50" r="2.5"/><circle cx="619.90" cy="507.50" r="2.5"/><circle cx="642.95" cy="507.50" r="2.5"/><circle cx="666.00" cy="507.50" r="2.5"/></g>
<path d="M389.40,522.30 L412.45,508.50 L435.50,498.60 L440.11,497.20 L444.72,496.30 L449.33,496.00 L453.94,496.00 L458.55,496.10 L463.16,496.30 L467.77,496.80 L472.38,497.30 L476.99,497.80 L481.60,498.40 L504.65,504.00 L527.70,508.00 L550.75,509.70 L573.80,509.70 L596.85,509.70 L619.90,509.70 L642.95,509.70 L666.00,509.70" fill="none" stroke="#ff0000" stroke-width="1.7" stroke-linejoin="round" clip-path="url(#cd)"/>
<path d="M389.40,522.80 L666.00,522.80" fill="none" stroke="#ff0000" stroke-width="1.7" stroke-linejoin="round" stroke-dasharray="1 4.3 4.3 4.3" clip-path="url(#cd)"/>
<path d="M389.40,372.80 L412.45,377.50 L435.50,382.30 L440.20,543.40" fill="none" stroke="#0000ff" stroke-width="1.7" stroke-linejoin="round" clip-path="url(#cd)"/>
<path d="M440.20,543.40 L440.55,543.16 L441.03,542.84 L441.59,542.46 L442.21,542.03 L442.87,541.58 L443.54,541.13 L444.19,540.70 L444.80,540.30 L445.38,539.93 L445.95,539.56 L446.53,539.20 L447.10,538.84 L447.68,538.49 L448.25,538.13 L448.83,537.77 L449.40,537.40 L449.97,537.03 L450.55,536.65 L451.12,536.28 L451.70,535.90 L452.27,535.52 L452.85,535.15 L453.42,534.77 L454.00,534.40 L454.57,534.03 L455.15,533.66 L455.73,533.30 L456.30,532.93 L456.88,532.57 L457.45,532.21 L458.02,531.85 L458.60,531.50 L459.18,531.15 L459.75,530.81 L460.33,530.48 L460.90,530.14 L461.48,529.81 L462.05,529.48 L462.63,529.14 L463.20,528.80 L463.77,528.45 L464.35,528.10 L464.93,527.75 L465.50,527.40 L466.07,527.05 L466.65,526.70 L467.22,526.35 L467.80,526.00 L468.38,525.66 L468.95,525.31 L469.53,524.97 L470.10,524.62 L470.68,524.29 L471.25,523.95 L471.83,523.62 L472.40,523.30 L472.97,522.98 L473.55,522.67 L474.12,522.36 L474.70,522.05 L475.27,521.75 L475.85,521.46 L476.42,521.17 L477.00,520.90 L477.57,520.64 L478.14,520.39 L478.70,520.16 L479.26,519.93 L479.83,519.71 L480.41,519.48 L481.00,519.24 L481.60,519.00 L482.20,518.75 L482.78,518.51 L483.35,518.27 L483.94,518.03 L484.57,517.77 L485.24,517.50 L485.98,517.21 L486.80,516.90 L487.72,516.56 L488.73,516.18 L489.80,515.79 L490.93,515.38 L492.08,514.97 L493.24,514.56 L494.38,514.17 L495.50,513.80 L496.60,513.44 L497.70,513.08 L498.80,512.73 L499.90,512.39 L501.00,512.06 L502.10,511.75 L503.20,511.46 L504.30,511.20 L505.36,510.97 L506.38,510.77 L507.37,510.59 L508.38,510.43 L509.41,510.29 L510.51,510.15 L511.70,510.02 L513.00,509.90 L514.43,509.78 L515.97,509.66 L517.59,509.55 L519.28,509.45 L521.01,509.36 L522.75,509.29 L524.49,509.24 L526.20,509.20 L527.85,509.19 L529.46,509.21 L531.06,509.25 L532.68,509.30 L534.34,509.36 L536.10,509.42 L537.97,509.47 L540.00,509.50 L541.62,509.52 L542.55,509.54 L543.27,509.56 L544.24,509.57 L545.93,509.58 L548.81,509.59 L553.34,509.59 L560.00,509.60 L569.86,509.60 L582.94,509.61 L598.11,509.61 L614.25,509.61 L630.23,509.60 L644.94,509.60 L657.23,509.60 L666.00,509.60" fill="none" stroke="#0000ff" stroke-width="1.7" stroke-linejoin="round" clip-path="url(#cd)"/>
<path d="M389.40,509.50 L666.00,509.50" fill="none" stroke="#0000ff" stroke-width="1.7" stroke-linejoin="round" stroke-dasharray="1 4.3 4.3 4.3" clip-path="url(#cd)"/>
<path d="M389.40,434.90 L666.00,434.90" fill="none" stroke="#000000" stroke-width="1.7" stroke-linejoin="round" clip-path="url(#cd)"/>
<line x1="69.5" y1="8" x2="69.5" y2="285" stroke="#1a1a1a" stroke-width="1.0"/>
<line x1="69" y1="8.5" x2="347" y2="8.5" stroke="#1a1a1a" stroke-width="1.0"/>
<line x1="346.5" y1="8" x2="346.5" y2="285" stroke="#808080" stroke-width="1.0"/>
<line x1="69" y1="284.5" x2="347" y2="284.5" stroke="#888888" stroke-width="1.0"/>
<line x1="389.5" y1="8" x2="389.5" y2="285.6" stroke="#2a2a2a" stroke-width="1.0"/>
<line x1="389" y1="8.5" x2="667" y2="8.5" stroke="#1a1a1a" stroke-width="1.0"/>
<line x1="666.4" y1="8" x2="666.4" y2="285.6" stroke="#333333" stroke-width="1.3"/>
<line x1="389" y1="284.9" x2="667" y2="284.9" stroke="#666666" stroke-width="1.5"/>
<line x1="70.5" y1="304" x2="70.5" y2="581" stroke="#1a1a1a" stroke-width="1.0"/>
<line x1="70" y1="304.5" x2="348" y2="304.5" stroke="#1a1a1a" stroke-width="1.0"/>
<line x1="347.5" y1="304" x2="347.5" y2="581" stroke="#707070" stroke-width="1.0"/>
<line x1="70" y1="580.5" x2="348" y2="580.5" stroke="#707070" stroke-width="1.0"/>
<line x1="389.3" y1="304" x2="389.3" y2="580.7" stroke="#3a3a3a" stroke-width="1.2"/>
<line x1="389" y1="304.5" x2="667" y2="304.5" stroke="#1a1a1a" stroke-width="1.0"/>
<line x1="666.4" y1="304" x2="666.4" y2="580.7" stroke="#333333" stroke-width="1.3"/>
<line x1="389" y1="579.9" x2="667" y2="579.9" stroke="#555555" stroke-width="1.5"/>
<line x1="207.6" y1="284.4" x2="207.6" y2="281.59999999999997" stroke="#1a1a1a" stroke-width="1.0"/>
<line x1="69.5" y1="146.3" x2="72.3" y2="146.3" stroke="#1a1a1a" stroke-width="1.0"/>
<line x1="527.7" y1="284.6" x2="527.7" y2="281.8" stroke="#bbbbbb" stroke-width="1.0"/>
<line x1="389.5" y1="100.3" x2="392.3" y2="100.3" stroke="#1a1a1a" stroke-width="1.0"/>
<line x1="389.5" y1="192.4" x2="392.3" y2="192.4" stroke="#1a1a1a" stroke-width="1.0"/>
<line x1="208.9" y1="580.4" x2="208.9" y2="577.6" stroke="#777777" stroke-width="1.0"/>
<line x1="70.6" y1="396.3" x2="73.39999999999999" y2="396.3" stroke="#1a1a1a" stroke-width="1.0"/>
<line x1="70.6" y1="488.4" x2="73.39999999999999" y2="488.4" stroke="#1a1a1a" stroke-width="1.0"/>
<line x1="527.7" y1="580.0" x2="527.7" y2="577.2" stroke="#1a1a1a" stroke-width="1.0"/>
<line x1="389.4" y1="373.2" x2="392.2" y2="373.2" stroke="#1a1a1a" stroke-width="1.0"/>
<line x1="389.4" y1="442.1" x2="392.2" y2="442.1" stroke="#1a1a1a" stroke-width="1.0"/>
<line x1="389.4" y1="511.1" x2="392.2" y2="511.1" stroke="#1a1a1a" stroke-width="1.0"/>
<text x="43.55" y="16.3" font-size="24.4" textLength="11.00" lengthAdjust="spacingAndGlyphs">6</text>
<text x="54.04" y="16.3" font-size="24.4" textLength="11.33" lengthAdjust="spacingAndGlyphs">0</text>
<text x="43.21" y="154.2" font-size="24.4" textLength="11.38" lengthAdjust="spacingAndGlyphs">3</text>
<text x="54.04" y="154.2" font-size="24.4" textLength="11.33" lengthAdjust="spacingAndGlyphs">0</text>
<text x="53.93" y="292.6" font-size="24.4" textLength="11.44" lengthAdjust="spacingAndGlyphs">0</text>
<text x="363.41" y="16.2" font-size="24.4" textLength="11.38" lengthAdjust="spacingAndGlyphs">3</text>
<text x="374.24" y="16.2" font-size="24.4" textLength="11.33" lengthAdjust="spacingAndGlyphs">0</text>
<text x="363.69" y="108.6" font-size="24.4" textLength="11.47" lengthAdjust="spacingAndGlyphs">2</text>
<text x="374.24" y="108.6" font-size="24.4" textLength="11.33" lengthAdjust="spacingAndGlyphs">0</text>
<text x="363.95" y="200.6" font-size="24.4" textLength="9.94" lengthAdjust="spacingAndGlyphs">1</text>
<text x="374.24" y="200.6" font-size="24.4" textLength="11.33" lengthAdjust="spacingAndGlyphs">0</text>
<text x="374.11" y="292.3" font-size="24.4" textLength="11.68" lengthAdjust="spacingAndGlyphs">0</text>
<text x="55.55" y="311.6" font-size="24.4" textLength="11.97" lengthAdjust="spacingAndGlyphs">2</text>
<text x="55.76" y="403.6" font-size="24.4" textLength="10.97" lengthAdjust="spacingAndGlyphs">0</text>
<text x="55.23" y="495.0" font-size="24.4" textLength="12.22" lengthAdjust="spacingAndGlyphs">2</text>
<line x1="39.6" y1="488.7" x2="53.6" y2="488.7" stroke="#000" stroke-width="1.0"/>
<text x="55.37" y="586.7" font-size="24.4" textLength="11.08" lengthAdjust="spacingAndGlyphs">4</text>
<line x1="40" y1="581" x2="53.6" y2="581" stroke="#000" stroke-width="1.0"/>
<text x="373.75" y="311.4" font-size="24.4" textLength="11.97" lengthAdjust="spacingAndGlyphs">2</text>
<text x="374.40" y="380.8" font-size="24.4" textLength="10.23" lengthAdjust="spacingAndGlyphs">1</text>
<text x="373.90" y="449.8" font-size="24.4" textLength="11.80" lengthAdjust="spacingAndGlyphs">0</text>
<text x="374.40" y="518.8" font-size="24.4" textLength="10.23" lengthAdjust="spacingAndGlyphs">1</text>
<line x1="359.1" y1="511.4" x2="372.3" y2="511.4" stroke="#000" stroke-width="1.0"/>
<text x="373.63" y="586.6" font-size="24.4" textLength="12.22" lengthAdjust="spacingAndGlyphs">2</text>
<line x1="359.1" y1="580.4" x2="372.3" y2="580.4" stroke="#000" stroke-width="1.0"/>
<text x="64.71" y="599.5" font-size="24.4" textLength="11.68" lengthAdjust="spacingAndGlyphs">0</text>
<text x="197.67" y="599.5" font-size="24.4" textLength="11.72" lengthAdjust="spacingAndGlyphs">2</text>
<text x="208.10" y="599.5" font-size="24.4" textLength="12.04" lengthAdjust="spacingAndGlyphs">5</text>
<text x="335.54" y="599.5" font-size="24.4" textLength="11.67" lengthAdjust="spacingAndGlyphs">5</text>
<text x="347.03" y="599.5" font-size="24.4" textLength="11.44" lengthAdjust="spacingAndGlyphs">0</text>
<text x="389.29" y="599.4" font-size="24.4" textLength="11.62" lengthAdjust="spacingAndGlyphs">3</text>
<text x="400.94" y="599.4" font-size="24.4" textLength="5.92" lengthAdjust="spacingAndGlyphs">.</text>
<line x1="373.8" y1="593.3" x2="387.6" y2="593.3" stroke="#000" stroke-width="1.0"/>
<text x="519.04" y="599.4" font-size="24.4" textLength="11.33" lengthAdjust="spacingAndGlyphs">0</text>
<text x="530.44" y="599.4" font-size="24.4" textLength="5.92" lengthAdjust="spacingAndGlyphs">.</text>
<text x="656.99" y="599.4" font-size="24.4" textLength="11.62" lengthAdjust="spacingAndGlyphs">3</text>
<text x="668.94" y="599.4" font-size="24.4" textLength="5.92" lengthAdjust="spacingAndGlyphs">.</text>
<text x="78.31" y="33.5" font-size="21.5" textLength="7.52" lengthAdjust="spacingAndGlyphs">(</text>
<text x="85.32" y="33.5" font-size="21.5" font-style="italic" textLength="11.44" lengthAdjust="spacingAndGlyphs">a</text>
<text x="96.37" y="33.5" font-size="21.5" textLength="7.52" lengthAdjust="spacingAndGlyphs">)</text>
<text x="398.66" y="33.5" font-size="21.5" textLength="7.91" lengthAdjust="spacingAndGlyphs">(</text>
<text x="406.38" y="33.5" font-size="21.5" font-style="italic" textLength="9.71" lengthAdjust="spacingAndGlyphs">b</text>
<text x="416.87" y="33.5" font-size="21.5" textLength="7.52" lengthAdjust="spacingAndGlyphs">)</text>
<text x="81.76" y="331.0" font-size="21.5" textLength="7.91" lengthAdjust="spacingAndGlyphs">(</text>
<text x="89.26" y="331.0" font-size="21.5" font-style="italic" textLength="9.27" lengthAdjust="spacingAndGlyphs">c</text>
<text x="98.33" y="331.0" font-size="21.5" textLength="7.91" lengthAdjust="spacingAndGlyphs">)</text>
<text x="398.51" y="332.5" font-size="21.5" textLength="7.52" lengthAdjust="spacingAndGlyphs">(</text>
<text x="406.14" y="332.5" font-size="21.5" font-style="italic" textLength="12.50" lengthAdjust="spacingAndGlyphs">d</text>
<text x="416.87" y="332.5" font-size="21.5" textLength="7.52" lengthAdjust="spacingAndGlyphs">)</text>
<text x="180.30" y="625.6" font-size="24.3" font-style="italic" textLength="18.35" lengthAdjust="spacingAndGlyphs">G</text>
<line x1="200.6" y1="631.0" x2="208.3" y2="607.9" stroke="#000" stroke-width="1.0"/>
<text x="209.87" y="625.6" font-size="24.3" textLength="26.75" lengthAdjust="spacingAndGlyphs">dB</text>
<text x="489.27" y="625.8" font-size="24.4" textLength="27.13" lengthAdjust="spacingAndGlyphs">log</text>
<text x="516.79" y="631.3" font-size="15.3" textLength="12.59" lengthAdjust="spacingAndGlyphs">10</text>
<text x="537.69" y="625.8" font-size="24.4" font-style="italic" textLength="17.58" lengthAdjust="spacingAndGlyphs">N</text>
<text x="555.01" y="629.1" font-size="15.0" textLength="9.75" lengthAdjust="spacingAndGlyphs">T</text>
<g transform="translate(23.3,510) rotate(-90)">
<text x="-0.44" y="0" font-size="23.5" textLength="27.85" lengthAdjust="spacingAndGlyphs">log</text>
<text x="28.77" y="5.2" font-size="15.4" textLength="13.96" lengthAdjust="spacingAndGlyphs">10</text>
<text x="45.96" y="0" font-size="23.5" font-style="italic" textLength="15.68" lengthAdjust="spacingAndGlyphs">T</text>
<path d="M67.40,-16.90 L68.02,-13.25 L71.68,-13.79 L68.40,-12.08 L70.05,-8.76 L67.40,-11.35 L64.75,-8.76 L66.40,-12.08 L63.12,-13.79 L66.78,-13.25Z" fill="#000"/>
<line x1="73.4" y1="5.7" x2="82.4" y2="-17.4" stroke="#000" stroke-width="1.0"/>
<text x="84.65" y="0" font-size="23.5" textLength="8.69" lengthAdjust="spacingAndGlyphs">(</text>
<text x="91.63" y="0" font-size="23.5" textLength="11.22" lengthAdjust="spacingAndGlyphs">1</text>
<line x1="104.3" y1="5.7" x2="112.7" y2="-17.4" stroke="#000" stroke-width="1.0"/>
<text x="115.50" y="0" font-size="23.5" textLength="11.96" lengthAdjust="spacingAndGlyphs">Γ</text>
<text x="127.76" y="0" font-size="23.5" textLength="6.61" lengthAdjust="spacingAndGlyphs">)</text>
</g>
<g transform="translate(30.1,243) rotate(-90)">
<g transform="translate(0.0,0)" fill="none" stroke="#000" stroke-linecap="round"><path d="M1.4,-12.6 C1.8,-14.6 3.2,-15.6 5.2,-16.0 C8.2,-16.6 12.2,-16.6 14.6,-15.8 C16.6,-15.0 17.0,-13.4 16.2,-11.8 C15.2,-10.0 12.8,-8.4 10.2,-7.8" stroke-width="1.5"/><path d="M10.2,-7.8 C11.4,-5.0 12.4,-1.6 14.0,-0.7 C15.8,0.1 17.6,-0.6 18.6,-2.2 L19.2,-3.6" stroke-width="2.1"/><path d="M7.8,-15.8 C6.6,-10.2 5.0,-4.6 3.2,-0.5" stroke-width="1.9"/></g>
<path d="M23.60,-17.40 L24.22,-13.85 L27.78,-14.36 L24.60,-12.68 L26.19,-9.44 L23.60,-11.95 L21.01,-9.44 L22.60,-12.68 L19.42,-14.36 L22.98,-13.85Z" fill="#000"/>
<line x1="29.5" y1="4.7" x2="38.3" y2="-18.1" stroke="#000" stroke-width="1.0"/>
<g transform="translate(39.6,0)" fill="none" stroke="#000" stroke-linecap="round"><path d="M1.4,-12.6 C1.8,-14.6 3.2,-15.6 5.2,-16.0 C8.2,-16.6 12.2,-16.6 14.6,-15.8 C16.6,-15.0 17.0,-13.4 16.2,-11.8 C15.2,-10.0 12.8,-8.4 10.2,-7.8" stroke-width="1.5"/><path d="M10.2,-7.8 C11.4,-5.0 12.4,-1.6 14.0,-0.7 C15.8,0.1 17.6,-0.6 18.6,-2.2 L19.2,-3.6" stroke-width="2.1"/><path d="M7.8,-15.8 C6.6,-10.2 5.0,-4.6 3.2,-0.5" stroke-width="1.9"/></g>
<text x="57.21" y="-8.2" font-size="18.1" textLength="34.90" lengthAdjust="spacingAndGlyphs">VAC</text>
<line x1="92.6" y1="-12.7" x2="103.1" y2="-12.7" stroke="#000" stroke-width="0.8"/>
<text x="103.33" y="-8.2" font-size="18.1" textLength="38.15" lengthAdjust="spacingAndGlyphs">HOM</text>
<path d="M144.20,-15.90 L144.79,-12.81 L147.91,-13.21 L145.15,-11.69 L146.49,-8.84 L144.20,-11.00 L141.91,-8.84 L143.25,-11.69 L140.49,-13.21 L143.61,-12.81Z" fill="#000"/>
<text x="149.84" y="0" font-size="24.5" textLength="8.04" lengthAdjust="spacingAndGlyphs">(</text>
<text x="156.95" y="0" font-size="24.5" textLength="27.50" lengthAdjust="spacingAndGlyphs">dB</text>
<text x="183.83" y="0" font-size="24.5" textLength="7.91" lengthAdjust="spacingAndGlyphs">)</text>
</g>
<line x1="7.9" y1="655.4" x2="29.4" y2="655.4" stroke="#ff0000" stroke-width="1.7"/>
<line x1="101.9" y1="655.4" x2="122.4" y2="655.4" stroke="#ff0000" stroke-width="1.7" stroke-dasharray="1 4.3 4.3 4.3"/>
<line x1="238.7" y1="655.4" x2="260.2" y2="655.4" stroke="#0000ff" stroke-width="1.7"/>
<line x1="328.4" y1="655.4" x2="349.2" y2="655.4" stroke="#0000ff" stroke-width="1.7" stroke-dasharray="1 4.3 4.3 4.3"/>
<line x1="478.4" y1="655.4" x2="500.1" y2="655.4" stroke="#000000" stroke-width="1.7"/>
<line x1="557.2" y1="655.4" x2="577.7" y2="655.4" stroke="#000000" stroke-width="1.7" stroke-dasharray="1 4.3 4.3 4.3"/>
<text x="35.47" y="660.2" font-size="25.5" textLength="61.48" lengthAdjust="spacingAndGlyphs">TMSS</text>
<text x="128.49" y="660.2" font-size="25.5" textLength="103.86" lengthAdjust="spacingAndGlyphs">TMSS-Bell</text>
<text x="264.56" y="660.2" font-size="25.5" textLength="58.87" lengthAdjust="spacingAndGlyphs">SMSS</text>
<text x="353.98" y="660.2" font-size="25.5" textLength="118.48" lengthAdjust="spacingAndGlyphs">SMSS-HOM</text>
<text x="506.55" y="660.2" font-size="25.5" textLength="46.15" lengthAdjust="spacingAndGlyphs">VAC</text>
<text x="584.55" y="660.2" font-size="25.5" textLength="97.62" lengthAdjust="spacingAndGlyphs">VAC-HET</text>
<circle cx="22.8" cy="694.4" r="4.3" fill="#ff0000"/><circle cx="254.2" cy="694.4" r="4.3" fill="#0000ff"/>
<text x="33.79" y="699.1" font-size="25.5" textLength="128.39" lengthAdjust="spacingAndGlyphs">TMSS-NULL</text>
<text x="264.07" y="699.1" font-size="25.5" textLength="127.10" lengthAdjust="spacingAndGlyphs">SMSS-NULL</text>
</svg></body></html>
